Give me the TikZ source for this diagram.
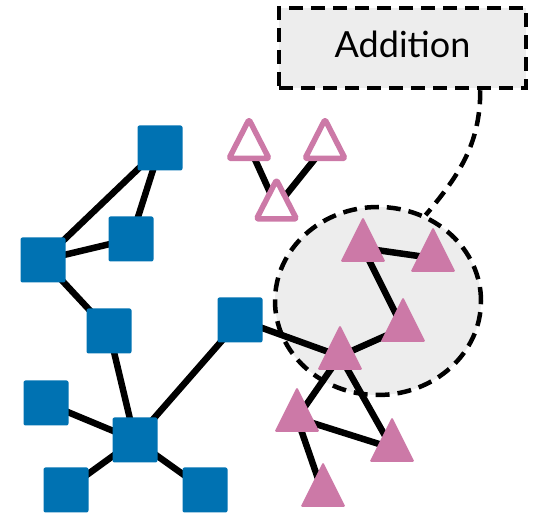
\documentclass[tikz,border=0pt]{standalone}
\usepackage{fontspec}
\setmainfont{Lato}
\usetikzlibrary{shapes.geometric,backgrounds}
\definecolor{bleu}{HTML}{0072B2}
\definecolor{rose}{HTML}{CC79A7}
\definecolor{grisclair}{HTML}{EDEDED}

\begin{document}
\begin{tikzpicture}[x=10pt,y=10pt,
	carre/.style={fill=bleu,minimum size=45pt,inner sep=0pt,rounded corners=2pt},
	tri/.style={isosceles triangle,isosceles triangle stretches,shape border rotate=90,anchor=apex,
		minimum width=45pt,minimum height=45pt,inner sep=0pt,outer sep=0pt,fill=rose,rounded corners=1.5pt},
	trivide/.style={tri,fill=white,draw=rose,line width=5.5pt,line join=round,
		minimum width=40pt,minimum height=39pt},
	arete/.style={line width=6.5pt},
	pointille/.style={line width=4.5pt,dash pattern=on 14pt off 8pt}]
\useasboundingbox (0,0) rectangle (53.9,51.4);

%Carres bleus
\node[carre] (c1) at (16.0,36.6) {};
\node[carre] (c2) at (13.1,27.5) {};
\node[carre] (c3) at (4.3,25.4) {};
\node[carre] (c4) at (10.9,18.3) {};
\node[carre] (c5) at (4.6,11.1) {};
\node[carre] (c6) at (13.5,7.4) {};
\node[carre] (c7) at (6.6,2.4) {};
\node[carre] (c8) at (20.5,2.4) {};
\node[carre] (c9) at (24.0,19.4) {};

%Triangles pleins (places par le sommet)
\node[tri] (t1) at (36.3,29.7) {};
\node[tri] (t2) at (43.3,28.7) {};
\node[tri] (t3) at (40.3,21.7) {};
\node[tri] (t4) at (34.0,18.9) {};
\node[tri] (t5) at (29.7,12.7) {};
\node[tri] (t6) at (39.2,9.7) {};
\node[tri] (t7) at (32.3,5.2) {};

%Triangles vides
\node[trivide] (v1) at (24.9,39.45) {};
\node[trivide] (v2) at (32.5,39.45) {};
\node[trivide] (v3) at (27.65,33.4) {};

%Zone et aretes, sous les noeuds
\begin{scope}[on background layer]
\node[ellipse,fill=grisclair,draw,pointille,minimum width=206pt,minimum height=188pt] (zone) at (37.8,21.3) {};
\foreach \a/\b in {c1/c3,c1/c2,c2/c3,c3/c4,c4/c6,c5/c6,c7/c6,c8/c6,c6/c9,c9/t4,
		t1/t2,t1/t3,t3/t4,t4/t5,t4/t6,t5/t6,t5/t7,v1/v3,v2/v3}
	\draw[arete] (\a.center) -- (\b.center);
\end{scope}

%Etiquette
\node[draw,pointille,fill=grisclair,minimum width=247pt,minimum height=80pt,
	font=\fontsize{36}{40}\selectfont,text height=26pt,text depth=6pt] (ajout) at (40.25,46.6) {Addition};
\draw[pointille] ([xshift=-48pt]ajout.south east) to[out=-90,in=50] (zone.61);

\end{tikzpicture}
\end{document}
